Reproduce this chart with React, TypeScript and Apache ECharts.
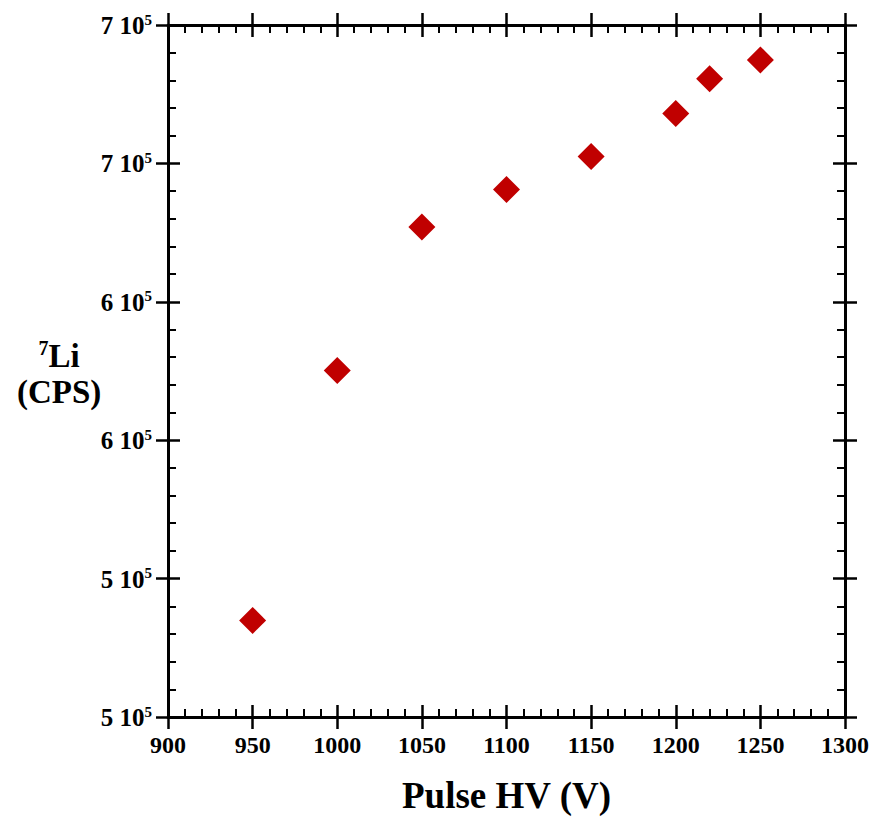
import React, { useEffect, useRef } from "react";
import * as echarts from "echarts";

// Data
const pulseHV = [950, 1000, 1050, 1100, 1150, 1200, 1220, 1250];
const li7Cps = [534900, 625200, 677000, 690600, 702500, 718000, 730600, 737400];

// Axis settings and tick labels
const xMin = 900;
const xMax = 1300;
const xInterval = 50;
const yMin = 500000;
const yMax = 750000;
const yInterval = 50000;
const yTickMantissa = ["5", "5", "6", "6", "7", "7"];
const yTickExponent = "5";

const FONT = "'Liberation Serif', 'Times New Roman', serif";
const BLACK = "#000000";
const MARK = "#C00000";

export default function App() {
  const ref = useRef<HTMLDivElement>(null);

  useEffect(() => {
    if (!ref.current) return;
    const chart = echarts.init(ref.current, undefined, { renderer: "svg" });

    const lineStyle = { color: BLACK, width: 3 };
    const majorTick = (inside: boolean) => ({
      show: true,
      inside,
      length: 12,
      lineStyle: { color: BLACK, width: 2.5 },
    });
    const minorTick = {
      show: true,
      splitNumber: 5,
      length: 8,
      lineStyle: { color: BLACK, width: 2 },
    };

    const xBase = {
      type: "value" as const,
      min: xMin,
      max: xMax,
      interval: xInterval,
      splitLine: { show: false },
    };
    const yBase = {
      type: "value" as const,
      min: yMin,
      max: yMax,
      interval: yInterval,
      splitLine: { show: false },
    };

    const option: any = {
      animation: false,
      backgroundColor: "#ffffff",
      grid: { left: 168, right: 29, top: 25, bottom: 99, containLabel: false },
      xAxis: [
        {
          ...xBase,
          position: "bottom",
          axisLine: { show: true, onZero: false, lineStyle },
          axisTick: majorTick(true),
          minorTick,
          axisLabel: {
            show: true,
            margin: 16,
            formatter: (v: number) => String(v),
            color: BLACK,
            fontFamily: FONT,
            fontWeight: "bold",
            fontSize: 24,
          },
          name: "Pulse HV (V)",
          nameLocation: "middle",
          nameGap: 60,
          nameTextStyle: {
            color: BLACK,
            fontFamily: FONT,
            fontWeight: "bold",
            fontSize: 37,
          },
        },
        {
          ...xBase,
          position: "bottom",
          axisLine: { show: false, onZero: false },
          axisTick: majorTick(false),
          axisLabel: { show: false },
        },
        {
          ...xBase,
          position: "top",
          axisLine: { show: true, onZero: false, lineStyle },
          axisTick: majorTick(true),
          minorTick,
          axisLabel: { show: false },
        },
        {
          ...xBase,
          position: "top",
          axisLine: { show: false, onZero: false },
          axisTick: majorTick(false),
          axisLabel: { show: false },
        },
      ],
      yAxis: [
        {
          ...yBase,
          position: "left",
          axisLine: { show: true, onZero: false, lineStyle },
          axisTick: majorTick(true),
          minorTick,
          axisLabel: {
            show: true,
            margin: 16,
            formatter: (_v: number, i: number) =>
              `{m|${yTickMantissa[i] ?? ""} 10}{e|${yTickExponent}}`,
            rich: {
              m: {
                color: BLACK,
                fontFamily: FONT,
                fontWeight: "bold",
                fontSize: 25,
                lineHeight: 26,
                verticalAlign: "bottom",
              },
              e: {
                color: BLACK,
                fontFamily: FONT,
                fontWeight: "bold",
                fontSize: 15,
                lineHeight: 14,
                verticalAlign: "top",
              },
            },
          },
        },
        {
          ...yBase,
          position: "left",
          axisLine: { show: false, onZero: false },
          axisTick: majorTick(false),
          axisLabel: { show: false },
        },
        {
          ...yBase,
          position: "right",
          axisLine: { show: true, onZero: false, lineStyle },
          axisTick: majorTick(true),
          minorTick,
          axisLabel: { show: false },
        },
        {
          ...yBase,
          position: "right",
          axisLine: { show: false, onZero: false },
          axisTick: majorTick(false),
          axisLabel: { show: false },
        },
      ],
      graphic: [
        {
          type: "text",
          left: 17,
          top: 338,
          style: {
            text: "{s|7}{t|Li}\n{t|(CPS)}",
            textAlign: "center",
            fill: BLACK,
            rich: {
              s: {
                fontFamily: FONT,
                fontWeight: "bold",
                fontSize: 20,
                lineHeight: 36,
                verticalAlign: "top",
                fill: BLACK,
              },
              t: {
                fontFamily: FONT,
                fontWeight: "bold",
                fontSize: 33,
                lineHeight: 36,
                fill: BLACK,
              },
            },
          },
        },
      ],
      series: [
        {
          type: "scatter",
          xAxisIndex: 0,
          yAxisIndex: 0,
          symbol: "diamond",
          symbolSize: 27,
          itemStyle: { color: MARK, opacity: 1 },
          data: pulseHV.map((x, i) => [x, li7Cps[i]]),
          z: 10,
        },
      ],
    };

    chart.setOption(option);
    return () => chart.dispose();
  }, []);

  return (
    <div
      ref={ref}
      style={{ position: "fixed", left: 0, top: 0, width: 874, height: 819 }}
    />
  );
}
